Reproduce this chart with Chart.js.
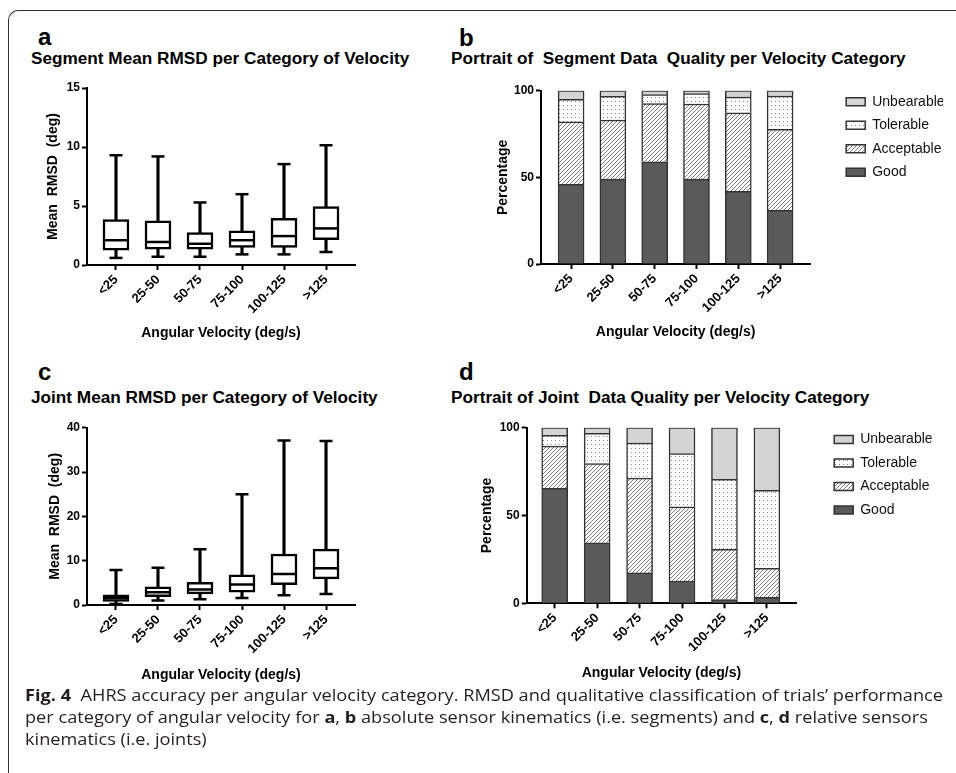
<!DOCTYPE html>
<html>
<head>
<meta charset="utf-8">
<title>AHRS accuracy per angular velocity category</title>
<script src="https://cdn.jsdelivr.net/npm/chart.js@4.4.1/dist/chart.umd.min.js"></script>
<style>
  body { margin: 0; background: #fff; }
  #page { position: relative; width: 956px; height: 773px; overflow: hidden; font-family: 'Liberation Sans', Arial, sans-serif; color: #000; }
  #frame { position: absolute; left: 8px; top: 10px; width: 990px; height: 800px; border-left: 1px solid #333; border-top: 1px solid #333; border-top-left-radius: 10px; }
  canvas { position: absolute; }
  .letter { position: absolute; font-size: 24px; font-weight: bold; line-height: 1; }
  .title { position: absolute; font-size: 17.2px; font-weight: bold; line-height: 1; white-space: pre; }
  #caption { position: absolute; left: 25px; top: 684px; font-family: 'Open Sans', sans-serif; font-size: 16px; line-height: 22px; color: #231f20; white-space: nowrap; }
  #caption div { transform-origin: left center; }
  #caption span { display: inline-block; }
</style>
</head>
<body>
<div id="page">
  <div id="frame"></div>

  <div class="letter" style="left:38px; top:25px;">a</div>
  <div class="title" style="left:31px; top:50px;">Segment Mean RMSD per Category of Velocity</div>
  <div class="letter" style="left:459px; top:26px;">b</div>
  <div class="title" style="left:451px; top:50px;">Portrait of  Segment Data  Quality per Velocity Category</div>
  <div class="letter" style="left:38px; top:360px;">c</div>
  <div class="title" style="left:31px; top:389px;">Joint Mean RMSD per Category of Velocity</div>
  <div class="letter" style="left:459px; top:360px;">d</div>
  <div class="title" style="left:451px; top:389px;">Portrait of Joint  Data Quality per Velocity Category</div>

  <canvas id="chartA" width="478" height="355" style="left:0; top:0;"></canvas>
  <canvas id="chartB" width="486" height="355" style="left:470px; top:0;"></canvas>
  <canvas id="chartC" width="478" height="335" style="left:0; top:355px;"></canvas>
  <canvas id="chartD" width="486" height="335" style="left:470px; top:355px;"></canvas>

  <div id="caption">
    <div><span><b>Fig. 4</b>&nbsp; AHRS accuracy per angular velocity category. RMSD and qualitative classification of trials’ performance</span></div>
    <div><span>per category of angular velocity for <b>a</b>, <b>b</b> absolute sensor kinematics (i.e. segments) and <b>c</b>, <b>d</b> relative sensors</span></div>
    <div><span>kinematics (i.e. joints)</span></div>
  </div>
</div>

<script>
// Data
const categories = ['<25', '25-50', '50-75', '75-100', '100-125', '>125'];
const qualityLabels = ['Good', 'Acceptable', 'Tolerable', 'Unbearable'];

// a: segment mean RMSD (deg), box and whiskers (min to max)
const segMin = [0.6, 0.7, 0.7, 0.9, 0.9, 1.1];
const segQ1 = [1.25, 1.35, 1.35, 1.5, 1.5, 2.15];
const segMedian = [2.1, 1.95, 1.8, 2.1, 2.45, 3.1];
const segQ3 = [3.85, 3.75, 2.75, 2.9, 3.95, 4.95];
const segMax = [9.3, 9.2, 5.3, 6.0, 8.55, 10.15];
const segYTicks = [0, 5, 10, 15];

// c: joint mean RMSD (deg)
const jointMin = [0.25, 1.0, 1.3, 1.6, 2.2, 2.5];
const jointQ1 = [0.8, 1.9, 2.5, 2.9, 4.6, 5.9];
const jointMedian = [1.6, 2.9, 3.5, 4.6, 7.0, 8.3];
const jointQ3 = [2.3, 4.1, 5.1, 6.8, 11.5, 12.6];
const jointMax = [7.9, 8.4, 12.6, 25.0, 37.1, 37.0];
const jointYTicks = [0, 10, 20, 30, 40];

// b: segment data quality (%)
const segGood = [46, 49, 59, 49, 42, 31];
const segAcceptable = [36, 34, 33.5, 43.3, 45.3, 46.7];
const segTolerable = [13, 13.7, 5.2, 6, 9, 19.2];
const segUnbearable = [5, 3.3, 2.3, 1.7, 3.7, 3.1];

// d: joint data quality (%)
const jointGood = [65.5, 34.5, 17.3, 12.7, 2.1, 3.4];
const jointAcceptable = [24, 45, 54, 42.3, 28.6, 16.5];
const jointTolerable = [6.2, 17.3, 20, 30.2, 39.9, 44.4];
const jointUnbearable = [4.3, 3.2, 8.7, 14.8, 29.4, 35.7];

const pctTicks = [0, 50, 100];

Chart.defaults.font.family = "'Liberation Sans', Arial, sans-serif";
Chart.defaults.color = '#000';

// fill patterns for the quality bars
function makePattern(draw) {
  const c = document.createElement('canvas');
  c.width = 4;
  c.height = 4;
  const g = c.getContext('2d');
  g.fillStyle = '#fff';
  g.fillRect(0, 0, 4, 4);
  draw(g);
  return g.createPattern(c, 'repeat');
}
const hatch = makePattern(g => {
  g.strokeStyle = '#808080';
  g.lineWidth = 1;
  g.beginPath();
  g.moveTo(0, 4); g.lineTo(4, 0);
  g.moveTo(-1, 1); g.lineTo(1, -1);
  g.moveTo(3, 5); g.lineTo(5, 3);
  g.stroke();
});
const dots = makePattern(g => {
  g.fillStyle = '#8a8a8a';
  g.fillRect(1, 1, 1, 1);
});
const qualityFills = ['#5a5a5a', hatch, dots, '#d4d4d4'];

// moves the legend to a fixed spot after layout
const legendPlace = {
  id: 'legendPlace',
  afterLayout(chart, args, opts) {
    const lg = chart.legend;
    if (!lg || opts.x == null) return;
    const w = lg.width, h = lg.height;
    lg.left = opts.x; lg.right = opts.x + w;
    lg.top = opts.y; lg.bottom = opts.y + h;
  }
};

const tickFont = {size: 12, weight: 'bold'};
const xTickFont = {size: 13, weight: 'bold'};
const titleFont = {size: 14, weight: 'bold'};

function scales(xRange, yMax, yTicks, yTitle, yWidth, xHeight, stacked) {
  return {
    x: {
      type: 'linear', min: xRange[0], max: xRange[1], offset: false, stacked: stacked,
      afterBuildTicks: s => { s.ticks = categories.map((c, i) => ({value: i})); },
      afterFit: s => { s.height = xHeight; },
      border: {display: true, color: '#000', width: 2},
      grid: {display: true, drawOnChartArea: false, drawTicks: true, tickLength: 5, tickWidth: 2, tickColor: '#000', offset: false},
      ticks: {callback: v => categories[v], autoSkip: false, minRotation: 45, maxRotation: 45, padding: 2, font: xTickFont, color: '#000'},
      title: {display: true, text: 'Angular Velocity (deg/s)', font: titleFont, color: '#000'}
    },
    y: {
      min: 0, max: yMax, stacked: stacked,
      afterBuildTicks: s => { s.ticks = yTicks.map(v => ({value: v})); },
      afterFit: s => { s.width = yWidth; },
      border: {display: true, color: '#000', width: 2},
      grid: {display: true, drawOnChartArea: false, drawTicks: true, tickLength: 5, tickWidth: 2, tickColor: '#000'},
      ticks: {padding: 2, font: tickFont, color: '#000'},
      title: {display: true, text: yTitle, font: titleFont, color: '#000'}
    }
  };
}

// box plot built from floating bars and line points
function boxChart(id, stats, yMax, yTicks, box) {
  const pts = arr => categories.map((c, i) => ({x: i, y: arr[i]}));
  const span = (lo, hi) => categories.map((c, i) => ({x: i, y: [lo[i], hi[i]]}));
  return new Chart(document.getElementById(id), {
    type: 'bar',
    data: {
      datasets: [
        {type: 'scatter', data: pts(stats.median), pointStyle: 'line', pointRadius: 13, pointBorderWidth: 2.5, pointBorderColor: '#000', order: 0},
        {type: 'scatter', data: pts(stats.min).concat(pts(stats.max)), pointStyle: 'line', pointRadius: 6.5, pointBorderWidth: 2.5, pointBorderColor: '#000', order: 1},
        {data: span(stats.q1, stats.q3), backgroundColor: '#fff', borderColor: '#000', borderWidth: 2.5, borderSkipped: false, barThickness: 26, grouped: false, order: 2},
        {data: span(stats.min, stats.max), backgroundColor: '#000', borderWidth: 0, barThickness: 2.5, grouped: false, order: 3}
      ]
    },
    options: {
      responsive: false,
      animation: false,
      events: [],
      layout: {padding: box.padding},
      plugins: {legend: {display: false}, tooltip: {enabled: false}},
      scales: scales(box.xRange, yMax, yTicks, 'Mean  RMSD  (deg)', box.yWidth, box.xHeight, false)
    }
  });
}

// stacked percentage bars with legend on the right
function qualityChart(id, series, box) {
  const pts = arr => categories.map((c, i) => ({x: i, y: arr[i]}));
  return new Chart(document.getElementById(id), {
    type: 'bar',
    data: {
      datasets: qualityLabels.map((lab, k) => ({
        label: lab,
        data: pts(series[k]),
        backgroundColor: qualityFills[k],
        borderColor: '#333',
        borderWidth: 1.5,
        barThickness: 26
      }))
    },
    options: {
      responsive: false,
      animation: false,
      events: [],
      layout: {padding: box.padding},
      plugins: {
        tooltip: {enabled: false},
        legend: {
          position: 'right', align: 'start', reverse: true,
          labels: {boxWidth: 19, boxHeight: 8, padding: 9.5, color: '#111', font: {size: 14}}
        },
        legendPlace: box.legend
      },
      scales: scales(box.xRange, 100, pctTicks, 'Percentage', box.yWidth, box.xHeight, true)
    },
    plugins: [legendPlace]
  });
}

boxChart('chartA', {min: segMin, q1: segQ1, median: segMedian, q3: segQ3, max: segMax}, 15, segYTicks, {
  padding: {left: 40.6, top: 88, right: 123, bottom: 9.6}, yWidth: 46.4, xHeight: 80.4, xRange: [-0.69, 5.69]
});

qualityChart('chartB', [segGood, segAcceptable, segTolerable, segUnbearable], {
  padding: {left: 20.9, top: 90.7, right: 39.4, bottom: 10.6}, yWidth: 50.1, xHeight: 80.4, xRange: [-0.72, 5.72],
  legend: {x: 366.7, y: 85.2}
});

boxChart('chartC', {min: jointMin, q1: jointQ1, median: jointMedian, q3: jointQ3, max: jointMax}, 40, jointYTicks, {
  padding: {left: 43.1, top: 72.7, right: 123, bottom: 2.6}, yWidth: 43.9, xHeight: 82.4, xRange: [-0.69, 5.69]
});

qualityChart('chartD', [jointGood, jointAcceptable, jointTolerable, jointUnbearable], {
  padding: {left: 5.1, top: 72.7, right: 52.8, bottom: 4.6}, yWidth: 51.6, xHeight: 82.1, xRange: [-0.66, 5.69],
  legend: {x: 354.7, y: 68}
});

// squeeze the caption to the width of the printed lines
const capLines = document.querySelectorAll('#caption div');
const firstWidth = capLines[0].querySelector('span').getBoundingClientRect().width;
const squeeze = 918 / firstWidth;
capLines.forEach(l => { l.style.transform = `scaleX(${squeeze})`; });
</script>
</body>
</html>
